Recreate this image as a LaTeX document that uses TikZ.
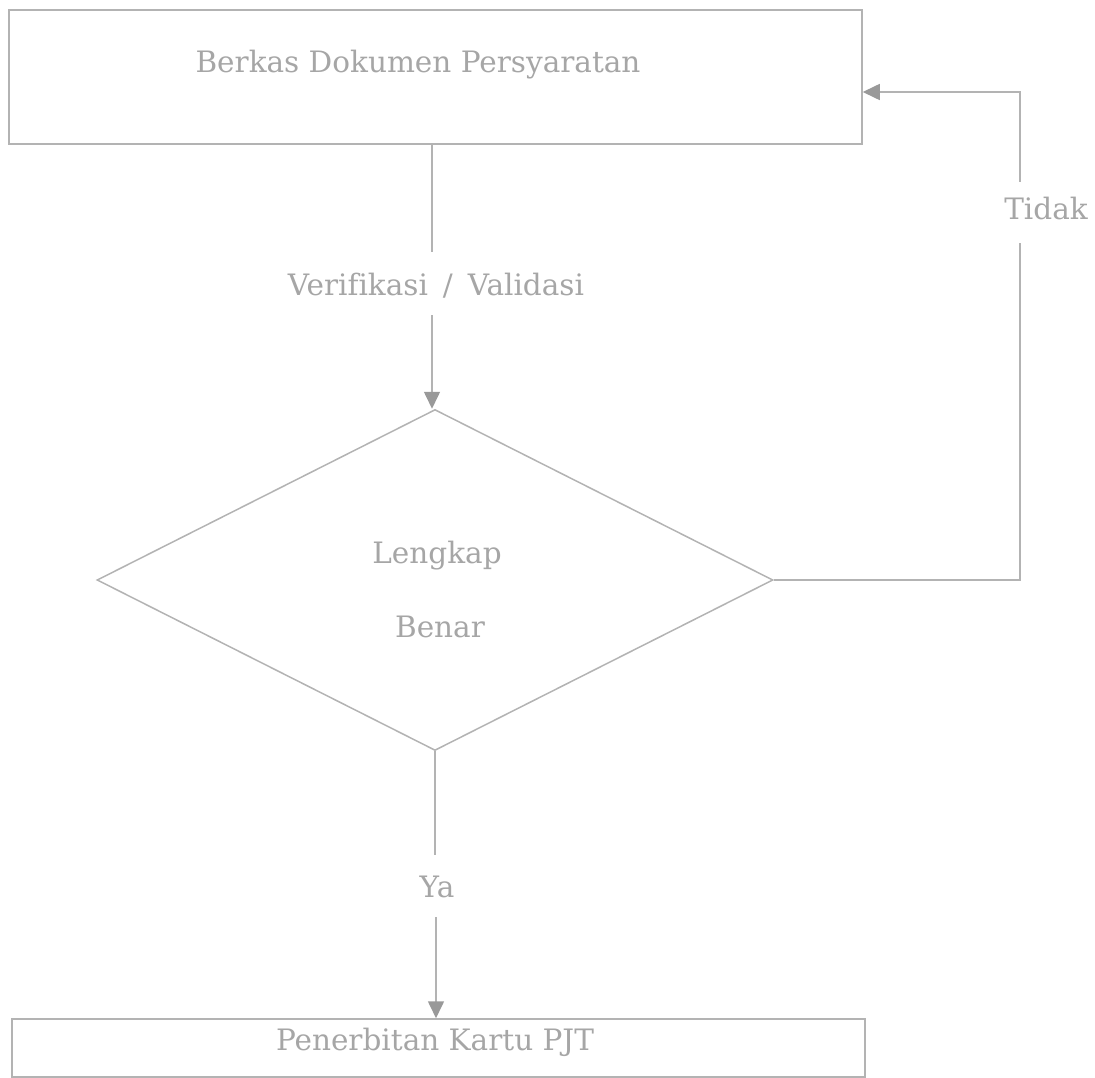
\documentclass[tikz,border=0pt]{standalone}
\usepackage{fontspec}
\setmainfont{DejaVu Serif}[Ligatures=NoCommon]
\usetikzlibrary{shapes.geometric,arrows.meta}
\definecolor{lncol}{HTML}{B3B3B3}
\definecolor{txcol}{HTML}{A6A6A6}
\definecolor{ahcol}{HTML}{999999}
\begin{document}
\begin{tikzpicture}[x=1pt,y=-1pt,
  lnk/.style={draw=lncol,line width=1.6pt},
  arr/.style={lnk,-{Triangle[length=17pt,width=16pt,fill=ahcol,color=ahcol]}},
  boxst/.style={rectangle,draw=lncol,line width=1.5pt,inner sep=0pt},
  dec/.style={diamond,draw=lncol,line width=1.5pt,inner sep=0pt},
  txt/.style={text=txcol,font=\fontsize{29.5pt}{30pt}\selectfont,anchor=base,inner sep=0pt}]
\useasboundingbox (0,0) rectangle (1095,1078);
% shapes
\node[boxst,minimum width=853pt,minimum height=134pt] (top) at (435.5,77) {};
\node[dec,minimum width=676pt,minimum height=341pt] (dia) at (435,580) {};
\node[boxst,minimum width=853pt,minimum height=58pt] (bot) at (438.5,1048) {};
% texts
\node[txt] (ttop) at (418,73) {Berkas Dokumen Persyaratan};
\node[txt] (ver) at (436,295) {Verifikasi\hspace{15pt}/\hspace{15pt}Validasi};
\node[txt] (l1) at (437,563) {Lengkap};
\node[txt] (l2) at (440,637) {Benar};
\node[txt] (ya) at (437,897) {Ya};
\node[txt] (tidak) at (1046,220) {Tidak};
\node[txt] (tbot) at (435,1050) {Penerbitan Kartu PJT};
% connector points
\coordinate (g1) at (432,252);
\coordinate (g2) at (432,315);
\coordinate (g3) at (435,855);
\coordinate (g4) at (436,917);
\coordinate (c1) at (1020,580);
\coordinate (c2) at (1020,92);
\coordinate (g5) at (1020,182);
\coordinate (g6) at (1020,243);
% connectors
\draw[lnk] (top.south -| g1) -- (g1);
\draw[arr] (g2) -- (g2 |- dia.north);
\draw[lnk] (dia.south) -- (g3);
\draw[arr] (g4) -- (g4 |- bot.north);
\draw[lnk] (dia.east) -- (c1) -- (g6);
\draw[arr] (g5) -- (c2) -- (c2 -| top.east);
\end{tikzpicture}
\end{document}
